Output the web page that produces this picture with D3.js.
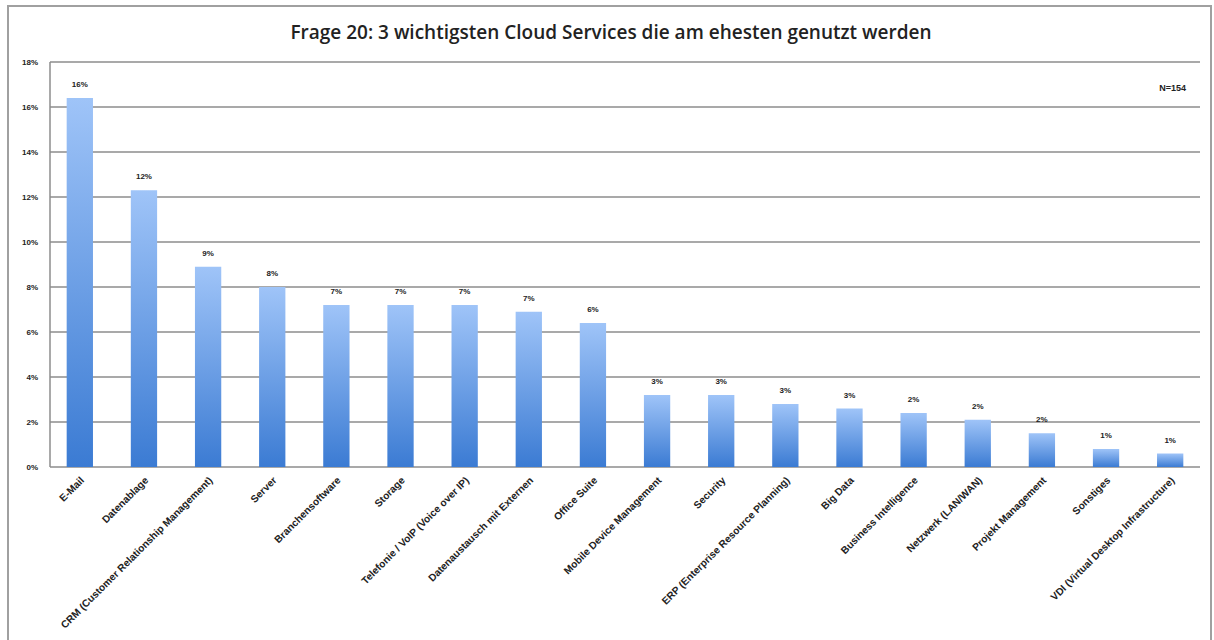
<!DOCTYPE html>
<html>
<head>
<meta charset="utf-8">
<script src="https://cdn.jsdelivr.net/npm/d3@7"></script>
<style>
  html, body { margin: 0; padding: 0; background: #fff; }
  svg { display: block; }
  .tick-label, .bar-label, .cat-label, .n-label {
    font-family: "Liberation Sans", Arial, sans-serif;
    font-weight: bold;
    fill: #222;
  }
  .chart-title {
    font-family: "Open Sans", "Liberation Sans", sans-serif;
    font-weight: 600;
    fill: #222;
  }
</style>
</head>
<body>
<script>
// Frage 20 - Anteil der Nennungen je Cloud Service (in %)
const categories = [
  "E-Mail",
  "Datenablage",
  "CRM (Customer Relationship Management)",
  "Server",
  "Branchensoftware",
  "Storage",
  "Telefonie / VoIP (Voice over IP)",
  "Datenaustausch mit Externen",
  "Office Suite",
  "Mobile Device Management",
  "Security",
  "ERP (Enterprise Resource Planning)",
  "Big Data",
  "Business Intelligence",
  "Netzwerk (LAN/WAN)",
  "Projekt Management",
  "Sonstiges",
  "VDI (Virtual Desktop Infrastructure)"
];
const shares = [16.4, 12.3, 8.9, 8.0, 7.2, 7.2, 7.2, 6.9, 6.4, 3.2, 3.2, 2.8, 2.6, 2.4, 2.1, 1.5, 0.8, 0.6];
const yTicks = [0, 2, 4, 6, 8, 10, 12, 14, 16, 18];
const titleText = "Frage 20: 3 wichtigsten Cloud Services die am ehesten genutzt werden";
const sampleNote = "N=154";

const W = 1214, H = 640;
const margin = { left: 50, right: 14, top: 62, bottom: 173 };

const svg = d3.select("body").append("svg")
  .attr("width", W)
  .attr("height", H);

// outer frame
svg.append("path")
  .attr("d", "M8,640 L8,6 L1211,6 L1211,640")
  .attr("fill", "none")
  .attr("stroke", "#a0a0a0")
  .attr("stroke-width", 2);

// gradient for bars
const grad = svg.append("defs").append("linearGradient")
  .attr("id", "barGrad")
  .attr("x1", 0).attr("y1", 0).attr("x2", 0).attr("y2", 1);
grad.append("stop").attr("offset", "0%").attr("stop-color", "#9fc4f8");
grad.append("stop").attr("offset", "100%").attr("stop-color", "#3b7bd3");

const x = d3.scaleBand()
  .domain(categories)
  .range([margin.left, 1200])
  .paddingInner(0.59)
  .paddingOuter(0.26);

const y = d3.scaleLinear()
  .domain([0, 18])
  .range([H - margin.bottom, margin.top]);

// gridlines
svg.append("g")
  .selectAll("line")
  .data(yTicks)
  .join("line")
  .attr("x1", margin.left)
  .attr("x2", 1200)
  .attr("y1", d => y(d))
  .attr("y2", d => y(d))
  .attr("stroke", "#8c8c8c")
  .attr("stroke-width", 1.5);

// vertical axis line
svg.append("line")
  .attr("x1", margin.left).attr("x2", margin.left)
  .attr("y1", y(18)).attr("y2", y(0))
  .attr("stroke", "#8c8c8c")
  .attr("stroke-width", 1.5);

// y tick labels
svg.append("g")
  .selectAll("text")
  .data(yTicks)
  .join("text")
  .attr("class", "tick-label")
  .attr("x", 38)
  .attr("y", d => y(d))
  .attr("dy", "0.35em")
  .attr("text-anchor", "end")
  .attr("font-size", 8)
  .text(d => d + "%");

// bars
const barData = categories.map((c, i) => ({ name: c, value: shares[i] }));

svg.append("g")
  .selectAll("rect")
  .data(barData)
  .join("rect")
  .attr("x", d => x(d.name))
  .attr("y", d => y(d.value))
  .attr("width", x.bandwidth())
  .attr("height", d => y(0) - y(d.value))
  .attr("fill", "url(#barGrad)");

// value labels
const fmt = d3.format(".0%");
svg.append("g")
  .selectAll("text")
  .data(barData)
  .join("text")
  .attr("class", "bar-label")
  .attr("x", d => x(d.name) + x.bandwidth() / 2)
  .attr("y", d => y(d.value) - 11)
  .attr("text-anchor", "middle")
  .attr("font-size", 8)
  .text(d => fmt(d.value / 100));

// category labels, rotated
svg.append("g")
  .selectAll("text")
  .data(categories)
  .join("text")
  .attr("class", "cat-label")
  .attr("font-size", 10.2)
  .attr("text-anchor", "end")
  .attr("transform", d => {
    const cx = x(d) + x.bandwidth() / 2 + 5;
    return "translate(" + cx + "," + (y(0) + 14) + ") rotate(-45)";
  })
  .text(d => d);

// title
svg.append("text")
  .attr("class", "chart-title")
  .attr("x", 611)
  .attr("y", 39)
  .attr("text-anchor", "middle")
  .attr("font-size", 19)
  .text(titleText);

// sample size
svg.append("text")
  .attr("class", "n-label")
  .attr("x", 1186)
  .attr("y", 91)
  .attr("text-anchor", "end")
  .attr("font-size", 9)
  .text(sampleNote);
</script>
</body>
</html>
